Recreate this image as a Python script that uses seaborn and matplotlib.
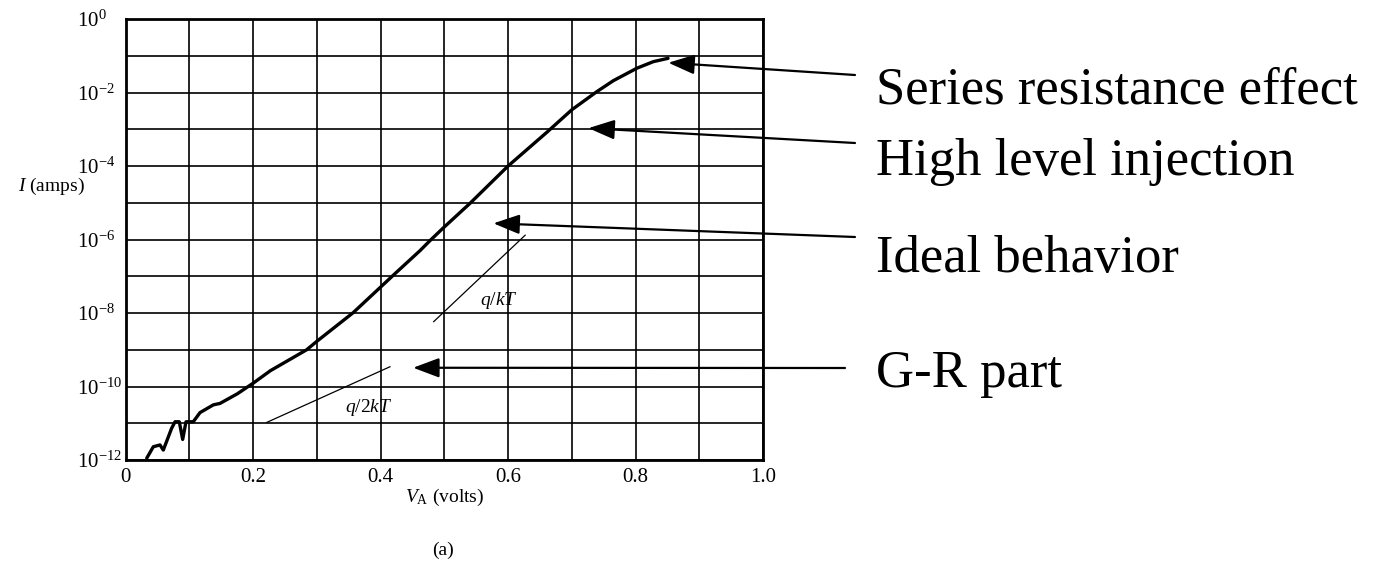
import numpy as np
import pandas as pd
import matplotlib
matplotlib.use("Agg")
import matplotlib.pyplot as plt
import seaborn as sns
from matplotlib.ticker import FixedLocator, NullLocator

# ---------------- data ----------------
V_curve = [0.033, 0.0433, 0.0538, 0.059, 0.072, 0.0774, 0.0841, 0.0894, 0.0946,
           0.106, 0.1166, 0.1375, 0.148, 0.175, 0.200, 0.227, 0.25, 0.284, 0.30,
           0.357, 0.42, 0.462, 0.4775, 0.498, 0.54, 0.60, 0.661, 0.70, 0.739,
           0.765, 0.802, 0.828, 0.851]
logI_curve = [-11.95, -11.64, -11.59, -11.73, -11.14, -10.96, -10.96, -11.44, -10.96,
              -10.96, -10.71, -10.50, -10.46, -10.20, -9.91, -9.57, -9.34, -9.00, -8.77,
              -7.99, -6.97, -6.30, -6.03, -5.69, -5.02, -4.00, -3.08, -2.47, -1.98,
              -1.68, -1.34, -1.16, -1.07]

V_qkT = [0.483, 0.627]
logI_qkT = [-8.24, -5.88]
V_q2kT = [0.221, 0.415]
logI_q2kT = [-10.98, -9.46]

x_ticks = [0.0, 0.1, 0.2, 0.3, 0.4, 0.5, 0.6, 0.7, 0.8, 0.9, 1.0]
x_labels = ["0", "", "0.2", "", "0.4", "", "0.6", "", "0.8", "", "1.0"]
y_exponents = list(range(-12, 1))

ann_labels = ["Series resistance effect", "High level injection", "Ideal behavior", "G-R part"]
ann_tip_V = [0.8514, 0.726, 0.577, 0.451]
ann_tip_logI = [-1.19, -2.97, -5.56, -9.49]

# ---------------- style ----------------
sns.set_theme(style="white")
plt.rcParams["font.family"] = ["Liberation Serif", "DejaVu Serif"]
plt.rcParams["mathtext.fontset"] = "custom"
plt.rcParams["mathtext.rm"] = "Liberation Serif"
plt.rcParams["mathtext.it"] = "Liberation Serif:italic"
plt.rcParams["mathtext.bf"] = "Liberation Serif:bold"

W, H = 1388, 580
fig = plt.figure(figsize=(W / 100, H / 100), dpi=100)
L, R, T, B = 125.7, 763.0, 19.0, 460.0
ax = fig.add_axes([L / W, (H - B) / H, (R - L) / W, (B - T) / H])

df_curve = pd.DataFrame({"V": V_curve, "I": 10.0 ** np.array(logI_curve)})
df_qkT = pd.DataFrame({"V": V_qkT, "I": 10.0 ** np.array(logI_qkT)})
df_q2kT = pd.DataFrame({"V": V_q2kT, "I": 10.0 ** np.array(logI_q2kT)})

ax.set_yscale("log")
sns.lineplot(data=df_curve, x="V", y="I", ax=ax, color="black", lw=2.4,
             estimator=None, sort=False, zorder=5)
sns.lineplot(data=df_qkT, x="V", y="I", ax=ax, color="black", lw=0.9,
             estimator=None, sort=False, zorder=5)
sns.lineplot(data=df_q2kT, x="V", y="I", ax=ax, color="black", lw=0.9,
             estimator=None, sort=False, zorder=5)

ax.set_xlim(0, 1.0)
ax.set_ylim(1e-12, 1e0)

ax.xaxis.set_major_locator(FixedLocator(x_ticks))
ax.set_xticklabels(x_labels)
ax.yaxis.set_major_locator(FixedLocator([10.0 ** e for e in y_exponents]))
ax.yaxis.set_minor_locator(NullLocator())
ax.set_yticklabels([r"$\mathregular{10^{%d}}$" % e if e % 2 == 0 else "" for e in y_exponents])

ax.grid(True, which="major", color="black", lw=1.2)
for sp in ax.spines.values():
    sp.set_visible(True)
    sp.set_color("black")
    sp.set_linewidth(2.0)

ax.tick_params(axis="x", length=0, pad=6, labelsize=15, colors="black")
ax.tick_params(axis="y", length=0, pad=(L - 77) * 0.72, labelsize=15, colors="black")
for lab in ax.get_yticklabels():
    lab.set_horizontalalignment("left")

ax.set_xlabel(r"$V_{\mathrm{A}}$ (volts)", fontsize=14, color="black")
ax.xaxis.set_label_coords(0.5, -(497 - B) / (B - T))
ax.xaxis.label.set_va("center")
ax.set_ylabel(r"$I$ (amps)", fontsize=14, rotation=0, color="black")
ax.yaxis.set_label_coords((18 - L) / (R - L), (B - 186) / (B - T))
ax.yaxis.label.set_ha("left")
ax.yaxis.label.set_va("center")

# slope labels
ax.text(0.585, 10 ** -7.65, r"$q/kT$", fontsize=14, ha="center", va="center", color="black")
ax.text(0.382, 10 ** -10.56, r"$q/2kT$", fontsize=14, ha="center", va="center", color="black")

# annotations: arrows from text to curve
tails_px = [(855, 75), (855, 143), (855, 237), (845, 368)]
baselines_px = [103, 175, 272, 387]
for lab, v, li, (tx, ty), bl in zip(ann_labels, ann_tip_V, ann_tip_logI, tails_px, baselines_px):
    ax.annotate("", xy=(v, 10 ** li), xycoords="data",
                xytext=(tx, H - ty), textcoords="figure pixels",
                arrowprops=dict(arrowstyle="-|>,head_length=0.8,head_width=0.3",
                                color="black", lw=1.6, shrinkA=0, shrinkB=0,
                                mutation_scale=20),
                annotation_clip=False)
    fig.text(876 / W, (H - bl) / H, lab, fontsize=38, ha="left", va="baseline", color="black")

fig.text(443 / W, (H - 550) / H, "(a)", fontsize=14, ha="center", va="center", color="black")

fig.savefig("out.png", dpi=100)
